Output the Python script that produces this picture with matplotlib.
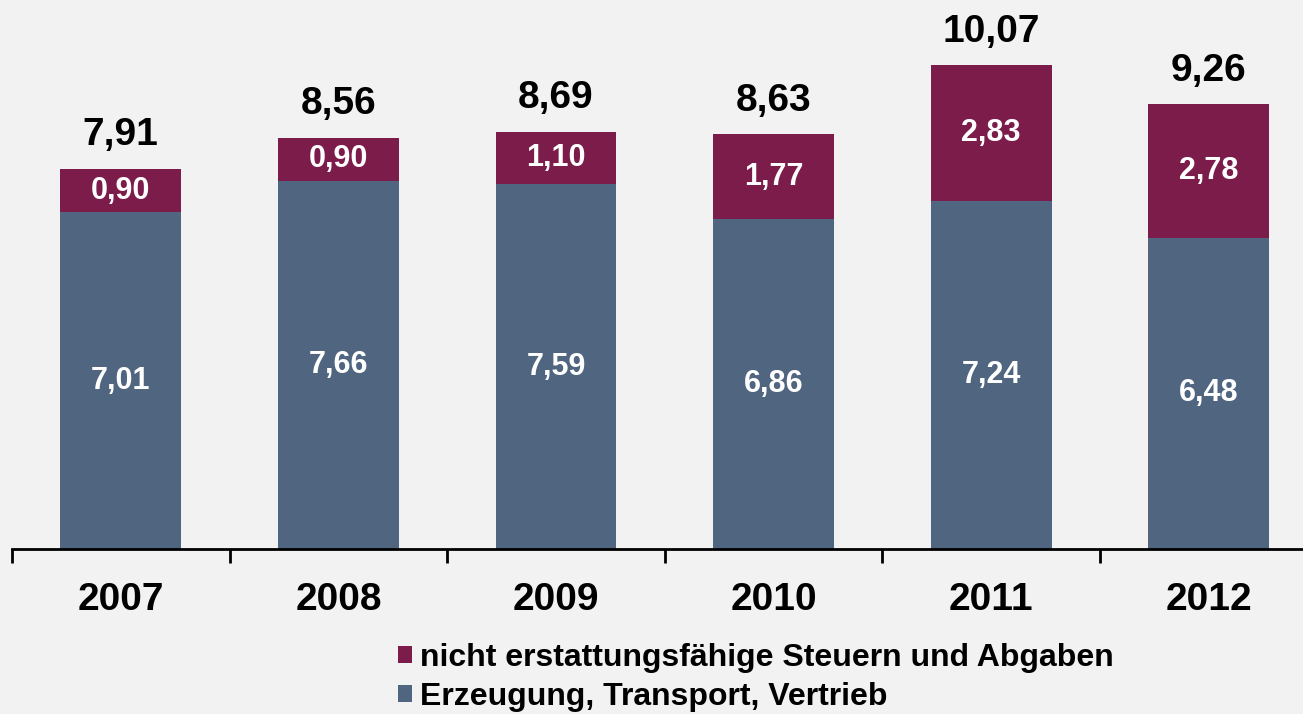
import numpy as np
import matplotlib.pyplot as plt
from matplotlib.ticker import FixedLocator

plt.rcParams['font.family'] = ['Liberation Sans', 'DejaVu Sans']
plt.rcParams['font.weight'] = 'bold'

years = ['2007', '2008', '2009', '2010', '2011', '2012']
erzeugung = [7.01, 7.66, 7.59, 6.86, 7.24, 6.48]      # Erzeugung, Transport, Vertrieb
steuern = [0.90, 0.90, 1.10, 1.77, 2.83, 2.78]        # nicht erstattungsfaehige Steuern und Abgaben
totals = [7.91, 8.56, 8.69, 8.63, 10.07, 9.26]

c_blue = '#4F6580'
c_purple = '#7B1C4A'
bg = '#F2F2F2'

def fmt(v):
    return ('%.2f' % v).replace('.', ',')

fig = plt.figure(figsize=(13.03, 7.14), dpi=100, facecolor=bg)
ax = fig.add_axes([12/1303, 165/714, 1305.6/1303, 549/714])
ax.set_facecolor(bg)

x = np.arange(len(years))
b1 = ax.bar(x, erzeugung, width=0.556, color=c_blue)
b2 = ax.bar(x, steuern, width=0.556, bottom=erzeugung, color=c_purple)

for i in range(len(years)):
    ax.text(x[i], erzeugung[i] / 2, fmt(erzeugung[i]), ha='center', va='center',
            color='white', fontsize=22, fontweight='bold')
    ax.text(x[i], erzeugung[i] + steuern[i] / 2, fmt(steuern[i]), ha='center', va='center',
            color='white', fontsize=22, fontweight='bold')
    ax.annotate(fmt(totals[i]), (x[i], totals[i]), xytext=(0, 17), textcoords='offset points',
                ha='center', va='baseline', fontsize=28, fontweight='bold', color='black')

ax.set_xlim(-0.5, 5.5)
ax.set_ylim(0, 549 / 48.04)
ax.set_yticks([])
for s in ['top', 'right', 'left']:
    ax.spines[s].set_visible(False)
ax.spines['bottom'].set_linewidth(2)
ax.set_xticks(x)
ax.set_xticklabels(years, fontsize=28, fontweight='bold')
ax.tick_params(axis='x', which='major', length=0, pad=24)
ax.xaxis.set_minor_locator(FixedLocator(np.arange(-0.5, 6, 1)))
ax.tick_params(axis='x', which='minor', length=10, width=2, direction='out')

leg = fig.legend([b2, b1], ['nicht erstattungsfähige Steuern und Abgaben', 'Erzeugung, Transport, Vertrieb'],
                 loc='upper left', bbox_to_anchor=(398/1303, 1 - 643/714), frameon=False,
                 fontsize=23, handlelength=0.45, handleheight=0.45, handletextpad=0.25,
                 labelspacing=0.28, borderpad=0, borderaxespad=0)
for t in leg.get_texts():
    t.set_fontweight('bold')

fig.savefig('out.png', dpi=100, facecolor=bg)
